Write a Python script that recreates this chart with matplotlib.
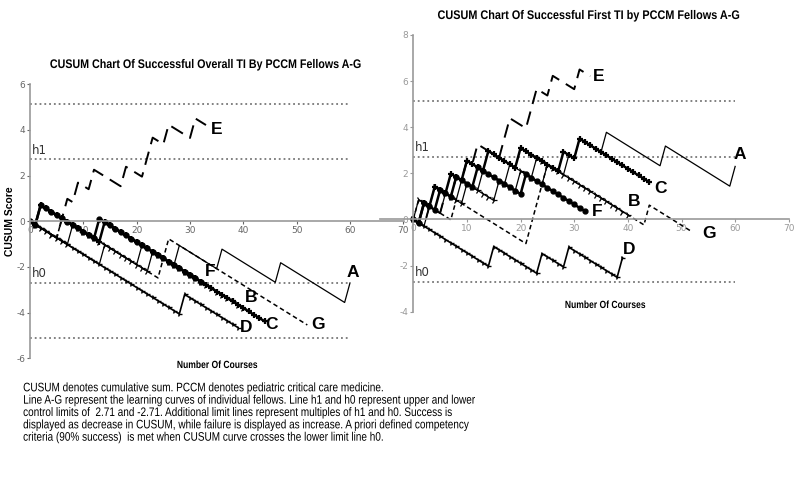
import numpy as np
import matplotlib.pyplot as plt
import matplotlib.patheffects as pe
from matplotlib.transforms import Affine2D

plt.rcParams["axes.unicode_minus"] = False

# CUSUM step sizes (success lowers the score, failure raises it)
S = 0.145
h1, h0 = 2.71, -2.71
h_outer = 5.13

fellows = ["A", "B", "C", "D", "E", "F", "G"]

# overall TI: failure course numbers and total courses per fellow
overall_fail = {
    "A": [14, 21, 28, 36, 47, 60],
    "B": [8, 23],
    "C": [2, 14],
    "D": [29],
    "E": [6, 7, 9, 12, 18, 22, 23, 26, 31],
    "F": [2, 13],
    "G": [6, 25, 26],
}
overall_n = {"A": 60, "B": 40, "C": 44, "D": 39, "E": 33, "F": 32, "G": 52}

# first TI
first_fail = {
    "A": [3, 6, 9, 13, 18, 25, 29, 31, 36, 47, 60],
    "B": [1, 4, 10, 16, 20, 23],
    "C": [2, 4, 7, 10, 14, 20, 28, 31],
    "D": [15, 24, 29, 39],
    "E": [3, 6, 8, 10, 12, 17, 18, 22, 23, 26, 31],
    "F": [2, 5, 8, 12, 21],
    "G": [1, 8, 22, 23, 24, 25, 44],
}
first_n = {"A": 60, "B": 40, "C": 44, "D": 39, "E": 33, "F": 32, "G": 52}

# label positions (course, score)
overall_lab = {"A": (60.5, -2.25), "B": (41.5, -3.35), "C": (45.3, -4.5), "D": (40.6, -4.65),
               "E": (35, 4.0), "F": (33.7, -2.2), "G": (54, -4.5)}
first_lab = {"A": (60.9, 2.8), "B": (41.1, 0.8), "C": (46, 1.35), "D": (40.2, -1.3),
             "E": (34.6, 6.2), "F": (34.3, 0.35), "G": (55.1, -0.6)}

style = {
    "A": dict(lw=0.9),
    "B": dict(lw=0.9, marker="4", ms=5, mew=0.9),
    "C": dict(lw=1.8, marker="+", ms=5, mew=1.6),
    "D": dict(lw=1.2, marker="4", ms=4, mew=1.0),
    "E": dict(lw=1.4, ls=(0, (7, 4))),
    "F": dict(lw=1.8, marker="o", ms=3.5),
    "G": dict(lw=1.1, ls=(0, (3, 2))),
}

caption = [
    "CUSUM denotes cumulative sum. PCCM denotes pediatric critical care medicine.",
    "Line A-G represent the learning curves of individual fellows. Line h1 and h0 represent upper and lower",
    "control limits of  2.71 and -2.71. Additional limit lines represent multiples of h1 and h0. Success is",
    "displayed as decrease in CUSUM, while failure is displayed as increase. A priori defined competency",
    "criteria (90% success)  is met when CUSUM curve crosses the lower limit line h0.",
]

sans = ["Liberation Sans", "DejaVu Sans"]


class Squeeze(pe.AbstractPathEffect):
    # squeeze glyphs sideways to mimic a narrow typeface
    def __init__(self, sx, anchor="left"):
        super().__init__()
        self.sx = sx
        self.anchor = anchor

    def draw_path(self, renderer, gc, tpath, affine, rgbFace=None):
        ext = tpath.get_extents(affine)
        x0 = ext.x0 if self.anchor == "left" else (ext.x0 + ext.x1) / 2
        tr = affine + Affine2D().translate(-x0, 0).scale(self.sx, 1).translate(x0, 0)
        renderer.draw_path(gc, tpath, tr, rgbFace)


def cusum(fails, n):
    out = np.zeros(n)
    out[np.array(fails) - 1] = 1
    steps = np.where(out == 1, 1 - S, -S)
    return np.r_[0, np.cumsum(steps)]


def draw(ax, fails, ns, labs, ylo, yhi, tickcol):
    ax.patch.set_alpha(0)
    for sp in ["top", "right"]:
        ax.spines[sp].set_visible(False)
    ax.spines["left"].set_position(("data", 0))
    ax.spines["bottom"].set_position(("data", 0))
    for sp in ["left", "bottom"]:
        ax.spines[sp].set_color("#999999")
        ax.spines[sp].set_linewidth(1.2)
    ax.set_ylim(ylo, yhi)
    ax.set_yticks(np.arange(ylo, yhi + 1, 2))
    ax.set_xticks(np.arange(0, 71, 10))
    ax.tick_params(labelsize=6.5, colors=tickcol, length=2, width=0.8, pad=1.5)
    for lev, lab in [(h_outer, None), (h1, "h1"), (h0, "h0"), (-h_outer, None)]:
        if ylo <= lev <= yhi:
            ax.hlines(lev, 0, 60, colors="#777777", linestyles=":", lw=1.3)
            if lab:
                ax.text(0.3, lev + 0.12, lab, fontsize=8.5, color="#333333", va="bottom")
    for f in fellows:
        y = cusum(fails[f], ns[f])
        x = np.arange(len(y))
        ax.plot(x, y, color="black", **style[f])
        lx, ly = labs[f]
        ax.text(lx, ly, f, fontsize=12.5, fontweight="bold", ha="center", va="center",
                family=sans)


fig = plt.figure(figsize=(8, 4.8), dpi=100)

axL = fig.add_axes([30 / 800, 1 - 358.3 / 480, 373.3 / 800, 274 / 480])
axL.set_xlim(0, 70)
draw(axL, overall_fail, overall_n, overall_lab, -6, 6, "#666666")

axR = fig.add_axes([380 / 800, 1 - 311.7 / 480, 408.8 / 800, 276.7 / 480])
axR.set_xlim(-6.2, 70)
draw(axR, first_fail, first_n, first_lab, -4, 8, "#999999")

fig.text(206 / 800, 1 - 65 / 480, "CUSUM Chart Of Successful Overall TI By PCCM Fellows A-G",
         ha="center", va="center", fontsize=9, fontweight="bold", family=sans,
         path_effects=[Squeeze(0.855, "center")])
fig.text(589 / 800, 1 - 16 / 480, "CUSUM Chart Of Successful First TI by PCCM Fellows A-G",
         ha="center", va="center", fontsize=9, fontweight="bold", family=sans,
         path_effects=[Squeeze(0.87, "center")])
fig.text(10 / 800, 1 - 221 / 480, "CUSUM Score", rotation=90, ha="center", va="center",
         fontsize=7.5, fontweight="bold", family=sans)
fig.text(217 / 800, 1 - 365 / 480, "Number Of Courses", ha="center", va="center",
         fontsize=7.5, fontweight="bold", family=sans, path_effects=[Squeeze(0.82, "center")])
fig.text(605 / 800, 1 - 305 / 480, "Number Of Courses", ha="center", va="center",
         fontsize=7.5, fontweight="bold", family=sans, path_effects=[Squeeze(0.82, "center")])

for i, line in enumerate(caption):
    fig.text(23 / 800, 1 - (388.3 + 12.35 * i) / 480, line, ha="left", va="center",
             fontsize=8.9, family=sans, path_effects=[Squeeze(0.81, "left")])

fig.savefig("out.png", dpi=100)
